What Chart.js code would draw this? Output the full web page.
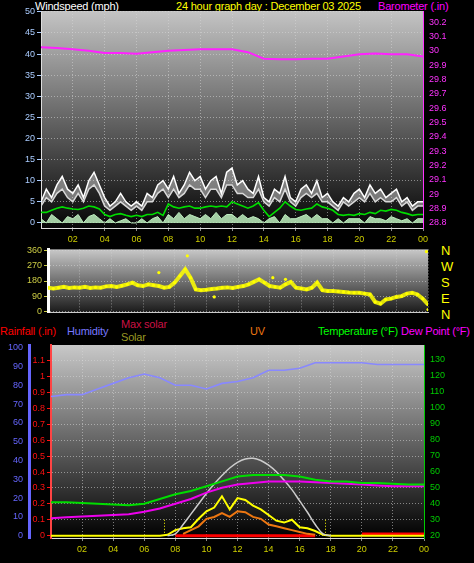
<!DOCTYPE html>
<html><head><meta charset="utf-8">
<script src="https://cdn.jsdelivr.net/npm/chart.js@4"></script>
<style>
html,body{margin:0;padding:0;background:#000;width:474px;height:563px;overflow:hidden;font-family:"Liberation Sans",Arial,sans-serif}
canvas{position:absolute;left:0}
.t{position:absolute;font-size:11px;white-space:nowrap;line-height:12px;letter-spacing:-0.2px}
</style></head><body>
<div class="t" style="left:35px;top:0;color:#fff">Windspeed (mph)</div>
<div class="t" style="left:176px;top:0;color:#ffff00">24 hour graph day : December 03 2025</div>
<div class="t" style="left:378px;top:0;color:#ff00ff">Barometer (.in)</div>
<div class="t" style="left:441px;top:243px;color:#ffff00;font-size:13px;line-height:16px">N<br>W<br>S<br>E<br>N</div>
<div class="t" style="left:0;top:325px;color:#ff0000">Rainfall (.in)</div>
<div class="t" style="left:67px;top:325px;color:#7777ff">Humidity</div>
<div class="t" style="left:121px;top:318px;color:#cc1144">Max solar</div>
<div class="t" style="left:121px;top:331px;color:#999922">Solar</div>
<div class="t" style="left:250px;top:325px;color:#ee7711">UV</div>
<div class="t" style="left:318px;top:325px;color:#00ff00">Temperature (°F)</div>
<div class="t" style="left:401px;top:325px;color:#ff00ff">Dew Point (°F)</div>
<canvas id="c1" width="474" height="243" style="top:0"></canvas>
<canvas id="c2" width="474" height="78" style="top:242px"></canvas>
<canvas id="c3" width="474" height="243" style="top:320px"></canvas>
<script>
// ---- data ----
const hourTicks = [2,4,6,8,10,12,14,16,18,20,22,24];
const hourLabels = ["02","04","06","08","10","12","14","16","18","20","22","00"];
// wind, every 20 minutes (73 points, 00:00..24:00)
const windGust = [5,8,6,9,11,8, 7,9,6,10,12,9, 6,4,5,7,5,4, 5,4,7,6,9,10, 8,11,7,9,12,10, 11,8,10,11,7,12, 13,9,10,8,7,11, 6,5,8,7,11,6, 5,8,9,7,10,6, 7,5,4,6,5,7, 8,6,9,7,8,6, 7,8,5,6,4,5, 5];
const windHigh = [4,6,5,7,8,6, 5,7,5,8,9,7, 4,3,4,5,4,3, 4,3,5,5,7,8, 6,8,6,7,9,8, 8,6,8,8,6,9, 9,7,7,6,6,8, 5,4,6,5,8,5, 4,6,7,6,7,5, 5,4,3,5,4,5, 6,5,7,5,6,5, 5,6,4,5,3,4, 4];
const windAvg = [2.5,2.5,3,3.5,3.8,3.5, 3.3,3.2,3.5,4,3.8,3.3, 2,1.5,2,2.2,1.8,1.5, 1.8,1.5,2,2,2.5,1.8, 4.5,3.8,3.5,3.8,4,3.5, 3.5,3.8,4,3.8,4,3.8, 5,4.5,4,3.5,4,4.8, 3,1.5,2.5,3.5,5,4, 3.2,3,3.3,3.5,4.5,3.8, 3.5,3,2,1.8,2,1.8, 2.2,2,2.5,2.2,3,2.8, 3.2,3,2.5,2.2,1.8,2, 2];
const windLull = [1,0,2,1,0,1.5, 1,2,0,1.5,2,1, 0,1,0,0.5,1,0, 0,1,0,1,1.5,0, 2,1,2.5,1,2,1.5, 1,2,1,2.5,1,2, 2,1,2,1,1.5,1, 0,1,1.5,0,2,1, 1,1.5,2,1,2,1, 1,0,1,0,1,1, 1,0,1.5,1,1,0.5, 1.5,1,0.5,1,0,1, 1];
// barometer hourly (25 points)
const baro = [30.025,30.02,30.01,30.0,29.985,29.985,29.98,29.99,30.0,30.005,30.01,30.01,30.01,29.99,29.945,29.94,29.94,29.945,29.945,29.96,29.975,29.98,29.975,29.975,29.96];
// wind direction every 20 minutes (73 points)
const windDir = [140,135,140,145,138,142, 140,145,138,142,140,148, 150,145,152,160,170,155, 150,160,155,150,140,145, 170,210,250,200,130,125, 128,132,135,140,142,138, 145,150,160,175,190,170, 150,145,140,160,175,140, 135,130,140,170,125,120, 120,118,115,112,110,110, 105,100,55,45,70,75, 85,90,105,110,100,75, 40];
const dirOutliers = [[8.8,330],[7.0,230],[10.5,85],[14.2,200],[15.0,190],[23.9,355],[24,10]];
// panel 3, hourly (25 points)
const humidity = [74,75,75,78,81,84,86,84,80,80,78,81,82,84,88,88,89,92,92,92,92,91,91,91,91];
const temperature = [41,41,40.5,40,39.5,39,40,43,46,48,51,54,57,58,58,58,57,55,54,54,53,53,52.5,52,52];
const dewPoint = [31,31.5,32,32.5,33,33.5,35,37,40,43,47,50,52,53,54,54,54,53.5,53,52.5,52,51.5,51,51,51];
const rainfall = [null,null,null,null,null,null,null,null,0,0,0,0,0,0,0,0,0,0,null,null,0.01,0.01,0.01,0.01,0.01];
// half-hourly (49 points) solar, max solar (W/m2) and UV index
const solar = [0,0,0,0,0,0,0,0,0,0,0,0,0,0,0,5,30,40,45,90,130,150,210,140,200,190,160,140,110,80,70,85,45,40,25,5,0,0,0,0,0,0,0,0,0,0,0,0,0];
const maxSolar = [null,null,null,null,null,null,null,null,null,null,null,null,null,null,null,0,10,60,115,170,225,275,320,360,390,408,412,400,375,340,295,245,185,125,60,10,0,null,null,null,null,null,null,null,null,null,null,null,null];
const uv = [null,null,null,null,null,null,null,null,null,null,null,null,null,null,null,null,null,0.1,0.3,0.5,0.9,1.0,1.2,1.0,1.3,1.25,1.0,0.9,0.6,0.5,0.4,0.3,0.2,0.1,0.05,null,null,null,null,null,null,null,null,null,null,null,null,null,null];
const sunTimes = [7.3,17.6];

// ---- helpers ----
const pts = (arr, step) => arr.map((v,i)=>({x:i*step, y:v}));
const F = {family:"Liberation Sans", size:9};
const bgPlugin = (top, bottom) => ({
  id:'bg', beforeDraw(c){const a=c.chartArea,x=c.ctx;const g=x.createLinearGradient(0,a.top,0,a.bottom);
    g.addColorStop(0,top);g.addColorStop(1,bottom);x.save();x.fillStyle=g;x.fillRect(a.left,a.top,a.right-a.left,a.bottom-a.top);x.restore();}
});
function xAxis(height, display){
  return {type:'linear',min:0,max:24,display:true,
    afterBuildTicks(s){s.ticks=hourTicks.map(v=>({value:v}));},
    afterFit(s){s.height=height;},
    ticks:{display:display,color:'#cccc00',font:F,maxRotation:0,autoSkip:false,callback:(v)=>hourLabels[hourTicks.indexOf(v)]},
    grid:{color:'rgba(215,215,215,0.55)',drawTicks:display,tickLength:3,tickColor:'#888'},
    border:{dash:[1,2],color:'#ddd',width:1}};
}
function yAxis(pos,min,max,tickVals,color,width,opts={}){
  return Object.assign({type:'linear',position:pos,min:min,max:max,
    afterBuildTicks(s){s.ticks=tickVals.map(v=>({value:v}));},
    afterFit(s){s.width=width;},
    ticks:{color:color,font:F,padding:2,callback:opts.cb||(v=>String(+v.toFixed(2)))},
    grid:{display:!!opts.grid,color:'rgba(215,215,215,0.55)',tickLength:4,tickColor:color,drawOnChartArea:!!opts.grid},
    border:{display:opts.border!==false,color:opts.borderColor||color,width:opts.bw||1,dash:opts.grid?[1,2]:(opts.dash||[])}},opts.extra||{});
}
const common = {responsive:false,animation:false,plugins:{legend:{display:false},tooltip:{enabled:false}},
  elements:{point:{radius:0},line:{tension:0,borderJoinStyle:'miter'}}};

// ---- panel 1 ----
new Chart(document.getElementById('c1'),{type:'line',
  data:{datasets:[
    {data:pts(baro,1),borderColor:'#ff22ff',borderWidth:2,yAxisID:'yb'},
    {data:pts(windLull,1/3),borderColor:'#bfeec0',backgroundColor:'rgba(190,240,190,0.85)',fill:'origin',borderWidth:1,yAxisID:'y'},
    {data:pts(windAvg,1/3),borderColor:'#00dd00',borderWidth:1.6,yAxisID:'y'},
    {data:pts(windHigh,1/3),borderColor:'#d8d8d8',borderWidth:1.5,yAxisID:'y'},
    {data:pts(windGust,1/3),borderColor:'#ffffff',backgroundColor:'rgba(230,230,230,0.45)',fill:'-1',borderWidth:1.5,yAxisID:'y'}
  ]},
  options:Object.assign({},common,{layout:{padding:{top:11,left:0,right:0,bottom:0}},
    scales:{x:xAxis(15,true),
      y:yAxis('left',-1.2,50.2,[0,5,10,15,20,25,30,35,40,45,50],'#aaccff',41,{grid:true,borderColor:'#ddd'}),
      yb:yAxis('right',28.765,30.277,[28.8,28.9,29,29.1,29.2,29.3,29.4,29.5,29.6,29.7,29.8,29.9,30,30.1,30.2],'#ff33ff',51,{bw:1})}}),
  plugins:[bgPlugin('#c4c4c4','#050505')]
});

// ---- panel 2 ----
const dirPoints = pts(windDir,1/3).concat(dirOutliers.map(p=>({x:p[0],y:p[1]})));
new Chart(document.getElementById('c2'),{type:'scatter',
  data:{datasets:[{data:dirPoints,backgroundColor:'#ffff00',borderColor:'#ffff00',pointRadius:1.6,borderWidth:0},
    {type:'line',data:pts(windDir,1/3),borderColor:'rgba(255,255,0,0.85)',borderWidth:4,pointRadius:0}]},
  options:Object.assign({},common,{layout:{padding:{top:5,left:0,right:0,bottom:4}},
    scales:{x:Object.assign(xAxis(0,false),{display:true,ticks:{display:false},grid:{display:true,color:'rgba(215,215,215,0.5)',drawTicks:false},border:{dash:[1,2],color:'#ccc'}}),
      y:yAxis('left',-8,368,[0,90,180,270,360],'#cccc44',48,{grid:true,borderColor:'#fff',bw:3}),
      y2:yAxis('right',-8,368,[],'#ffff00',46,{border:false})}}),
  plugins:[bgPlugin('#c8c8c8','#1a1a1a')]
});

// ---- panel 3 ----
const sunPlugin = {id:'sun',afterDatasetsDraw(c){const x=c.ctx,sx=c.scales.x,yh=c.scales.yh;x.save();x.strokeStyle='#ffff00';x.setLineDash([1,2]);x.lineWidth=1;
  sunTimes.forEach(t=>{const px=Math.round(sx.getPixelForValue(t))+0.5;x.beginPath();x.moveTo(px,yh.getPixelForValue(0));x.lineTo(px,yh.getPixelForValue(9));x.stroke();});x.restore();}};
new Chart(document.getElementById('c3'),{type:'line',
  data:{datasets:[
    {data:pts(humidity,1),borderColor:'#8888ff',borderWidth:1.6,yAxisID:'yh'},
    {data:pts(temperature,1),borderColor:'#00dd00',borderWidth:2,yAxisID:'yt'},
    {data:pts(dewPoint,1),borderColor:'#ee00ee',borderWidth:2,yAxisID:'yt'},
    {data:pts(maxSolar,0.5),borderColor:'#cccccc',borderWidth:1.5,yAxisID:'ys',tension:0.4},
    {data:pts(uv,0.5),borderColor:'#ee7711',borderWidth:2,yAxisID:'yu'},
    {data:pts(solar,0.5),borderColor:'#ffff00',borderWidth:2,yAxisID:'ys'},
    {data:pts(rainfall,1),borderColor:'#ff0000',borderWidth:3,yAxisID:'yr',stepped:true}
  ]},
  options:Object.assign({},common,{layout:{padding:{top:25,left:0,right:0,bottom:0}},
    scales:{x:xAxis(25,true),
      yr:yAxis('left',-0.0145,1.1986,[0,0.1,0.2,0.3,0.4,0.5,0.6,0.7,0.8,0.9,1,1.1],'#ff1111',22,{grid:true,borderColor:'#ff4444',bw:2}),
      yh:yAxis('left',-1.2,101.4,[0,10,20,30,40,50,60,70,80,90,100],'#6666ff',29,{bw:3}),
      yt:yAxis('right',18.56,139.4,[20,30,40,50,60,70,80,90,100,110,120,130],'#00cc00',50,{bw:1}),
      ys:{type:'linear',display:false,min:-12,max:1014},
      yu:{type:'linear',display:false,min:-0.12,max:10.14}}}),
  plugins:[bgPlugin('#c8c8c8','#000000'),sunPlugin]
});
</script></body></html>
